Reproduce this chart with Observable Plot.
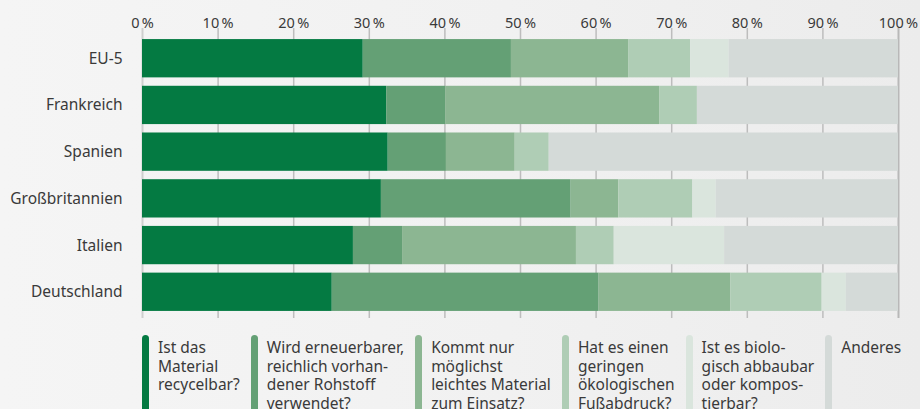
<!DOCTYPE html>
<html><head><meta charset="utf-8">
<script src="https://cdn.jsdelivr.net/npm/d3@7"></script>
<script src="https://cdn.jsdelivr.net/npm/@observablehq/plot@0.6"></script>
<style>
html,body{margin:0;padding:0;}
body{width:920px;height:409px;overflow:hidden;background:linear-gradient(to right,#f5f5f5 0%,#f1f1f1 55%,#ececec 100%);font-family:"Noto Sans",sans-serif;color:#3a3a3a;}
#chart svg{display:block;background:transparent;}
#legend{display:flex;gap:11px;margin-left:142px;margin-top:16px;}
.item{display:flex;}
.sw{width:7px;height:80px;border-radius:3.5px 3.5px 0 0;margin-right:9px;flex:none;}
.lab{font-size:15.5px;line-height:18.5px;white-space:pre-line;margin-top:3px;}
</style></head>
<body>
<div id="chart"></div>
<div id="legend"></div>
<script>
const countries = ["EU-5","Frankreich","Spanien","Großbritannien","Italien","Deutschland"];
const seriesNames = ["Ist das Material recycelbar?","Wird erneuerbarer, reichlich vorhandener Rohstoff verwendet?","Kommt nur möglichst leichtes Material zum Einsatz?","Hat es einen geringen ökologischen Fußabdruck?","Ist es biologisch abbaubar oder kompostierbar?","Anderes"];
const legendLabels = ["Ist das\nMaterial\nrecycelbar?","Wird erneuerbarer,\nreichlich vorhan-\ndener Rohstoff\nverwendet?","Kommt nur\nmöglichst\nleichtes Material\nzum Einsatz?","Hat es einen\ngeringen\nökologischen\nFußabdruck?","Ist es biolo-\ngisch abbaubar\noder kompos-\ntierbar?","Anderes"];
const colors = ["#047a42","#64a075","#8cb692","#afcdb5","#dae5dd","#d4dad8"];
// values in % per country, in order of seriesNames
const recycelbar   = [29.2, 32.3, 32.5, 31.6, 27.9, 25.1];
const erneuerbar   = [19.6,  7.8,  7.7, 25.1,  6.5, 35.3];
const leicht       = [15.5, 28.3,  9.1,  6.3, 23.0, 17.4];
const fussabdruck  = [ 8.2,  5.0,  4.5,  9.8,  5.0, 12.1];
const abbaubar     = [ 5.1,  0.0,  0.0,  3.1, 14.6,  3.2];
const anderes      = [22.4, 26.6, 46.2, 24.1, 23.0,  6.9];
const xTicks = [0,10,20,30,40,50,60,70,80,90,100];

const seriesValues = [recycelbar, erneuerbar, leicht, fussabdruck, abbaubar, anderes];
const data = [];
countries.forEach((c, i) => {
  seriesNames.forEach((s, j) => {
    data.push({country: c, series: s, value: seriesValues[j][i]});
  });
});

const chart = Plot.plot({
  width: 920,
  height: 319,
  marginTop: 33,
  marginBottom: 2,
  marginLeft: 142,
  marginRight: 22,
  style: {fontFamily: "Noto Sans, sans-serif", fontSize: "15.5px", color: "#3a3a3a", background: "transparent"},
  x: {domain: [0, 100], label: null},
  y: {domain: countries, paddingInner: 0.18, paddingOuter: 0.13, round: false, label: null},
  color: {domain: seriesNames, range: colors},
  marks: [
    Plot.ruleX(xTicks.filter(d => d > 0 && d < 100), {x: d => d, stroke: "#bdbdbd", strokeWidth: 1.5, insetTop: -5, insetBottom: -1}),
    Plot.ruleX([0], {x: d => d, stroke: "#cfcfcf", strokeWidth: 2, insetTop: -5, insetBottom: -1}),
    Plot.ruleX([100], {x: d => d, stroke: "#b8b8b8", strokeWidth: 2, insetTop: -5, insetBottom: -1}),
    Plot.barX(data, Plot.stackX({x: "value", y: "country", fill: "series", order: seriesNames, inset: 0})),
    Plot.axisX(xTicks, {anchor: "top", label: null, tickSize: 0, tickPadding: 6, tickFormat: d => d + "\u2009%", fontSize: "14.5px", fill: "#3a3a3a"}),
    Plot.axisY({anchor: "left", label: null, tickSize: 0, tickPadding: 20, fontSize: "15.5px", fill: "#3a3a3a"})
  ]
});
document.getElementById("chart").appendChild(chart);

const legend = document.getElementById("legend");
legendLabels.forEach((l, i) => {
  const it = document.createElement("div");
  it.className = "item";
  const sw = document.createElement("div");
  sw.className = "sw";
  sw.style.background = colors[i];
  const lab = document.createElement("div");
  lab.className = "lab";
  lab.textContent = l;
  it.appendChild(sw); it.appendChild(lab);
  legend.appendChild(it);
});
</script>
</body></html>
